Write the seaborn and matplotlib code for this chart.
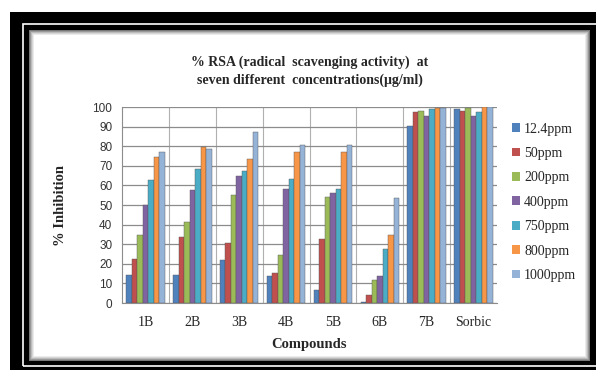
import matplotlib
matplotlib.use("Agg")
import matplotlib.pyplot as plt
import numpy as np
import pandas as pd
import seaborn as sns
from matplotlib.patches import Rectangle

compounds = ['1B', '2B', '3B', '4B', '5B', '6B', '7B', 'Sorbic']
concs = ['12.4ppm', '50ppm', '200ppm', '400ppm', '750ppm', '800ppm', '1000ppm']

ppm_12_4 = [14.4, 14.2, 22.0, 13.9, 6.8, 0.5, 90.5, 99.0]
ppm_50 = [22.3, 33.8, 30.4, 15.5, 32.8, 4.0, 97.6, 98.0]
ppm_200 = [34.5, 41.2, 54.9, 24.7, 53.9, 11.5, 98.0, 99.3]
ppm_400 = [49.8, 57.9, 64.9, 58.1, 56.1, 13.9, 95.3, 95.3]
ppm_750 = [62.7, 68.2, 67.2, 63.5, 58.1, 27.7, 98.8, 97.6]
ppm_800 = [74.7, 79.6, 73.5, 76.9, 77.0, 34.8, 99.3, 99.8]
ppm_1000 = [77.0, 78.5, 87.0, 80.6, 80.4, 53.4, 99.7, 99.8]

colors = ['#4F81BD', '#C0504D', '#9BBB59', '#8064A2', '#4BACC6', '#F79646', '#95B3D7']

series = [ppm_12_4, ppm_50, ppm_200, ppm_400, ppm_750, ppm_800, ppm_1000]
rows = []
for c, vals in zip(concs, series):
    for comp, v in zip(compounds, vals):
        rows.append({'Compound': comp, 'Conc': c, 'Inhibition': v})
df = pd.DataFrame(rows)

sns.set_style("white")
serif = ['Liberation Serif', 'DejaVu Serif']
sans = ['Liberation Sans', 'DejaVu Sans']

W, H = 596, 376
fig = plt.figure(figsize=(W / 100, H / 100), dpi=100)
fig.patch.set_facecolor('white')

def px_rect(x0, y0, x1, y1, **kw):
    # rectangle in figure pixels, y from top
    return Rectangle((x0 / W, 1 - y1 / H), (x1 - x0) / W, (y1 - y0) / H,
                     transform=fig.transFigure, **kw)

# black double frame with shadowed white panel
fig.patches.append(px_rect(10, 12, 596, 370, facecolor='black', edgecolor='none', zorder=0))
fig.patches.append(px_rect(23, 24, 600, 366, facecolor='none', edgecolor='white', lw=1.2, zorder=1))
for i, g in enumerate(['#777777', '#999999', '#bbbbbb', '#d6d6d6', '#ebebeb']):
    fig.patches.append(px_rect(29 + i, 30 + i, 590 - i, 361 - i, facecolor=g, edgecolor='none', zorder=1))
fig.patches.append(px_rect(34, 35, 585, 356, facecolor='white', edgecolor='none', zorder=1))

ax = fig.add_axes([122 / W, 1 - 303 / H, (497 - 122) / W, (303 - 107) / H])
ax.set_zorder(3)
sns.barplot(data=df, x='Compound', y='Inhibition', hue='Conc', hue_order=concs,
            palette=colors, width=0.82, ax=ax, edgecolor='#555555', linewidth=0.3,
            saturation=1, zorder=3)

ax.set_ylim(0, 100)
ax.set_xlim(-0.5, len(compounds) - 0.5)
ax.set_yticks(np.arange(0, 101, 10))
ax.yaxis.grid(True, color='#8c8c8c', lw=0.9, zorder=0)
for b in np.arange(0.5, len(compounds) - 0.5, 1):
    ax.axvline(b, color='#b0b0b0', lw=0.8, zorder=0)
ax.set_axisbelow(True)
for s in ['top', 'right']:
    ax.spines[s].set_visible(False)
ax.spines['left'].set_color('#8c8c8c')
ax.spines['bottom'].set_color('#8c8c8c')

ax.tick_params(axis='y', length=4, color='#8c8c8c', labelsize=8.5, labelcolor='#333333', pad=3)
ax.tick_params(axis='x', length=0, pad=9)
for t in ax.get_yticklabels():
    t.set_family(sans)
ax.set_xticks(range(len(compounds)))
ax.set_xticklabels(compounds, family=serif, fontsize=10)
ax.set_xticks(np.arange(-0.5, len(compounds), 1), minor=True)
ax.tick_params(axis='x', which='minor', length=4, color='#8c8c8c')

ax.set_xlabel('Compounds', family=serif, fontsize=10.5, fontweight='bold', labelpad=7)
ax.set_ylabel('% Inhibition', family=serif, fontsize=10.5, fontweight='bold', labelpad=18)

ax.legend_.remove()
handles = [Rectangle((0, 0), 1, 1, facecolor=c, edgecolor='none') for c in colors]
fig.legend(handles, concs, loc='upper left', bbox_to_anchor=(506 / W, 1 - 117 / H),
           frameon=False, prop={'family': serif, 'size': 10}, handlelength=0.6,
           handleheight=0.6, handletextpad=0.3, labelspacing=0.82, borderaxespad=0)

fig.text(310 / W, 1 - 62 / H, '% RSA (radical  scavenging activity)  at',
         ha='center', va='center', family=serif, fontsize=10, fontweight='bold', zorder=5)
fig.text(310 / W, 1 - 80 / H, 'seven different  concentrations(\u03bcg/ml)',
         ha='center', va='center', family=serif, fontsize=10, fontweight='bold', zorder=5)

fig.savefig('out.png', dpi=100)
